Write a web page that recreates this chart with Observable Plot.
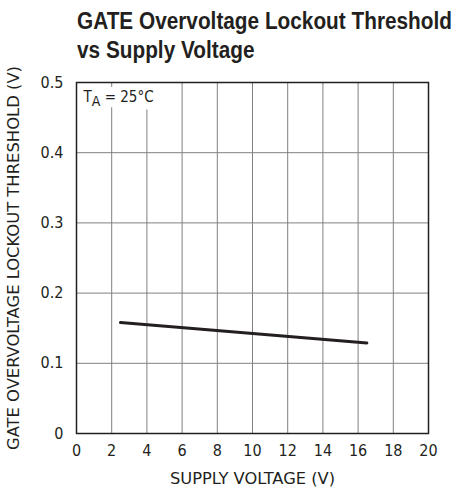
<!DOCTYPE html>
<html>
<head>
<meta charset="utf-8">
<script src="https://cdn.jsdelivr.net/npm/d3@7"></script>
<script src="https://cdn.jsdelivr.net/npm/@observablehq/plot@0.6"></script>
<style>
  body { margin: 0; background: #fff; width: 455px; height: 492px; overflow: hidden; }
  #title { box-sizing: border-box; height: 64px; padding: 7px 0 0 77px;
    font-family: "Liberation Sans", Arial, sans-serif;
    font-weight: bold; font-size: 23px; line-height: 29px; color: #231f20; white-space: nowrap; }
  #title span { display: inline-block; transform-origin: 0 0; }
  #chart svg { display: block; }
</style>
</head>
<body>
<div id="title"><span id="t1">GATE Overvoltage Lockout Threshold</span><br><span id="t2">vs Supply Voltage</span></div>
<div id="chart"></div>
<script>
const supplyVoltage = [2.5, 16.5];
const threshold = [0.158, 0.129];
const xTicks = [0, 2, 4, 6, 8, 10, 12, 14, 16, 18, 20];
const yTicks = [0, 0.1, 0.2, 0.3, 0.4, 0.5];
const yTickLabels = ["0", "0.1", "0.2", "0.3", "0.4", "0.5"];
const annotation = ["TA = 25°C"];

// condense the title to the reference width
const t1 = document.getElementById("t1"), t2 = document.getElementById("t2");
const sx = 375 / t1.getBoundingClientRect().width;
t1.style.transform = `scaleX(${sx})`;
t2.style.transform = `scaleX(${sx})`;

const data = supplyVoltage.map((v, i) => ({x: v, y: threshold[i]}));
const font = '"DejaVu Sans Condensed", "DejaVu Sans", sans-serif';
const ink = "#231f20";

const chart = Plot.plot({
  width: 455,
  height: 428,
  marginTop: 18,
  marginBottom: 59,
  marginLeft: 76,
  marginRight: 27,
  style: {fontFamily: font, fontSize: "16px", color: ink, background: "#fff"},
  x: {domain: [0, 20], ticks: xTicks, label: null},
  y: {domain: [0, 0.5], ticks: yTicks, label: null},
  marks: [
    Plot.gridX(xTicks, {stroke: "#808080", strokeOpacity: 1, strokeWidth: 1}),
    Plot.gridY(yTicks, {stroke: "#808080", strokeOpacity: 1, strokeWidth: 1}),
    Plot.text(annotation, {frameAnchor: "top-left", dx: 7, dy: 9, text: d => d, fontSize: 15,
      fill: "white", stroke: "white", strokeWidth: 16, textAnchor: "start", lineAnchor: "top"}),
    Plot.text(annotation, {frameAnchor: "top-left", dx: 7, dy: 9, text: d => d, fontSize: 15,
      fill: ink, textAnchor: "start", lineAnchor: "top"}),
    Plot.frame({stroke: ink, strokeWidth: 1.5}),
    Plot.axisX(xTicks, {tickSize: 0, tickPadding: 11, fontSize: 16, label: "SUPPLY VOLTAGE (V)", labelAnchor: "center", labelOffset: 50, labelArrow: "none"}),
    Plot.axisY(yTicks, {tickSize: 0, tickPadding: 13, fontSize: 16, tickFormat: (d, i) => yTickLabels[i], label: "GATE OVERVOLTAGE LOCKOUT THRESHOLD (V)", labelAnchor: "center", labelOffset: 68, labelArrow: "none"}),
    Plot.line(data, {x: "x", y: "y", stroke: ink, strokeWidth: 3})
  ]
});
document.getElementById("chart").appendChild(chart);

const svg = d3.select(chart);
// subscript A in annotation
svg.selectAll("text").each(function() {
  if (this.textContent === annotation[0]) {
    const t = d3.select(this);
    t.text(null);
    t.append("tspan").text("T");
    t.append("tspan").attr("dy", "0.3em").attr("font-size", "14px").text("A");
    t.append("tspan").attr("dy", "-0.3em").text(" = 25°C");
  }
});
// axis label sizes
svg.selectAll("text").each(function() {
  if (this.textContent === "SUPPLY VOLTAGE (V)") {
    d3.select(this).attr("font-size", 15).attr("textLength", 165).attr("lengthAdjust", "spacingAndGlyphs");
  }
  if (this.textContent === "GATE OVERVOLTAGE LOCKOUT THRESHOLD (V)") {
    d3.select(this).attr("font-size", 15).attr("textLength", 384).attr("lengthAdjust", "spacingAndGlyphs");
  }
});
</script>
</body>
</html>
